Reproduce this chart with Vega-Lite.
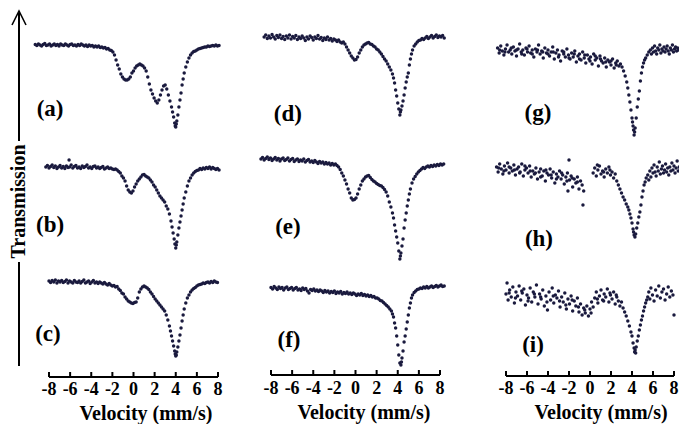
{
"$schema": "https://vega.github.io/schema/vega-lite/v6.json",
"background": "white",
"padding": {"left": 8, "top": 7, "right": 0, "bottom": 0},
"config": {
 "view": {"stroke": null},
 "circle": {"size": 12, "color": "#1a1a3e", "opacity": 1},
 "text": {"font": "Liberation Serif", "fontWeight": "bold", "color": "black"},
 "rule": {"strokeWidth": 2, "color": "black"}
},
"datasets": {
 "ticks": [{"tv":-8,"lab":"-8"},{"tv":-6,"lab":"-6"},{"tv":-4,"lab":"-4"},{"tv":-2,"lab":"-2"},{"tv":0,"lab":"0"},{"tv":2,"lab":"2"},{"tv":4,"lab":"4"},{"tv":6,"lab":"6"},{"tv":8,"lab":"8"}],
 "a": [{"v":-9.3,"t":93.5},{"v":-9.15,"t":92.5},{"v":-9.0,"t":94},{"v":-8.85,"t":93},{"v":-8.7,"t":92},{"v":-8.55,"t":93.5},{"v":-8.4,"t":94.5},{"v":-8.25,"t":92.5},{"v":-8.1,"t":93},{"v":-7.95,"t":94},{"v":-7.8,"t":92},{"v":-7.65,"t":93},{"v":-7.5,"t":94},{"v":-7.35,"t":92.5},{"v":-7.2,"t":93.5},{"v":-7.05,"t":92},{"v":-6.9,"t":94},{"v":-6.75,"t":93},{"v":-6.6,"t":92.5},{"v":-6.45,"t":94},{"v":-6.3,"t":93},{"v":-6.15,"t":92},{"v":-6.0,"t":93.5},{"v":-5.85,"t":94},{"v":-5.7,"t":92.5},{"v":-5.55,"t":93},{"v":-5.4,"t":92},{"v":-5.25,"t":93.5},{"v":-5.1,"t":92.5},{"v":-4.95,"t":94},{"v":-4.8,"t":93},{"v":-4.65,"t":92},{"v":-4.5,"t":93},{"v":-4.35,"t":91.5},{"v":-4.2,"t":93},{"v":-4.05,"t":92},{"v":-3.9,"t":92.5},{"v":-3.75,"t":91},{"v":-3.6,"t":92},{"v":-3.45,"t":91},{"v":-3.3,"t":92},{"v":-3.15,"t":90.5},{"v":-3.0,"t":91},{"v":-2.85,"t":90},{"v":-2.7,"t":90.5},{"v":-2.55,"t":89},{"v":-2.4,"t":89.5},{"v":-2.25,"t":88},{"v":-2.1,"t":87.5},{"v":-1.95,"t":86},{"v":-1.8,"t":83},{"v":-1.65,"t":78},{"v":-1.5,"t":73},{"v":-1.35,"t":69},{"v":-1.2,"t":64},{"v":-1.05,"t":61},{"v":-0.9,"t":59},{"v":-0.75,"t":58},{"v":-0.6,"t":58},{"v":-0.45,"t":59},{"v":-0.3,"t":61},{"v":-0.15,"t":65},{"v":0,"t":67},{"v":0.15,"t":70},{"v":0.3,"t":72},{"v":0.45,"t":73},{"v":0.6,"t":74},{"v":0.75,"t":73},{"v":0.9,"t":72},{"v":1.05,"t":70},{"v":1.2,"t":67},{"v":1.35,"t":61},{"v":1.5,"t":54},{"v":1.65,"t":48},{"v":1.8,"t":44},{"v":1.95,"t":40},{"v":2.1,"t":37},{"v":2.25,"t":35},{"v":2.4,"t":38},{"v":2.55,"t":43},{"v":2.7,"t":48},{"v":2.85,"t":52},{"v":3.0,"t":53},{"v":3.15,"t":49},{"v":3.3,"t":43},{"v":3.45,"t":37},{"v":3.6,"t":31},{"v":3.7,"t":26},{"v":3.8,"t":21},{"v":3.9,"t":15},{"v":3.95,"t":12},{"v":4.0,"t":11},{"v":4.05,"t":14},{"v":4.1,"t":17},{"v":4.2,"t":23},{"v":4.3,"t":31},{"v":4.4,"t":38},{"v":4.5,"t":45},{"v":4.6,"t":53},{"v":4.7,"t":59},{"v":4.8,"t":65},{"v":4.95,"t":71},{"v":5.1,"t":76},{"v":5.25,"t":80},{"v":5.4,"t":83},{"v":5.55,"t":85},{"v":5.7,"t":86.5},{"v":5.85,"t":87},{"v":6.0,"t":88},{"v":6.15,"t":89},{"v":6.3,"t":89.5},{"v":6.45,"t":90},{"v":6.6,"t":90.5},{"v":6.75,"t":91},{"v":6.9,"t":91},{"v":7.05,"t":92},{"v":7.2,"t":91.5},{"v":7.35,"t":92},{"v":7.5,"t":92.5},{"v":7.65,"t":92},{"v":7.8,"t":93},{"v":7.95,"t":92},{"v":8.1,"t":92.5}],
 "b": [{"v":-8.3,"t":90},{"v":-8.15,"t":91.5},{"v":-8.0,"t":89},{"v":-7.85,"t":90.5},{"v":-7.7,"t":92},{"v":-7.55,"t":89.5},{"v":-7.4,"t":91},{"v":-7.25,"t":88.5},{"v":-7.1,"t":90},{"v":-6.95,"t":91.5},{"v":-6.8,"t":89},{"v":-6.65,"t":90.5},{"v":-6.5,"t":88.5},{"v":-6.35,"t":91},{"v":-6.2,"t":89.5},{"v":-6.1,"t":97},{"v":-6.05,"t":90},{"v":-5.9,"t":92},{"v":-5.75,"t":89},{"v":-5.6,"t":90.5},{"v":-5.45,"t":91.5},{"v":-5.3,"t":89},{"v":-5.15,"t":90},{"v":-5.0,"t":88.5},{"v":-4.85,"t":91},{"v":-4.7,"t":89.5},{"v":-4.55,"t":90.5},{"v":-4.4,"t":92},{"v":-4.25,"t":89},{"v":-4.1,"t":90},{"v":-3.95,"t":88.5},{"v":-3.8,"t":90.5},{"v":-3.65,"t":91},{"v":-3.5,"t":89},{"v":-3.35,"t":90},{"v":-3.2,"t":88.5},{"v":-3.05,"t":89.5},{"v":-2.9,"t":90.5},{"v":-2.75,"t":88},{"v":-2.6,"t":89},{"v":-2.45,"t":90},{"v":-2.3,"t":88.5},{"v":-2.15,"t":89},{"v":-2.0,"t":88},{"v":-1.85,"t":87.5},{"v":-1.7,"t":88},{"v":-1.55,"t":87},{"v":-1.4,"t":85.5},{"v":-1.25,"t":84},{"v":-1.1,"t":81},{"v":-0.95,"t":79},{"v":-0.8,"t":76},{"v":-0.65,"t":71},{"v":-0.5,"t":67},{"v":-0.35,"t":65},{"v":-0.2,"t":64},{"v":-0.05,"t":66},{"v":0.1,"t":70},{"v":0.25,"t":73},{"v":0.4,"t":76},{"v":0.55,"t":78},{"v":0.7,"t":80},{"v":0.85,"t":82},{"v":1.0,"t":82.5},{"v":1.15,"t":81},{"v":1.3,"t":80},{"v":1.45,"t":79},{"v":1.6,"t":77},{"v":1.75,"t":75},{"v":1.9,"t":72},{"v":2.05,"t":70},{"v":2.2,"t":67},{"v":2.35,"t":64},{"v":2.5,"t":61},{"v":2.65,"t":59},{"v":2.8,"t":57},{"v":2.95,"t":55},{"v":3.1,"t":51},{"v":3.25,"t":48},{"v":3.4,"t":43},{"v":3.55,"t":36},{"v":3.65,"t":30},{"v":3.75,"t":24},{"v":3.85,"t":18},{"v":3.92,"t":13},{"v":4.0,"t":9},{"v":4.05,"t":12},{"v":4.1,"t":15},{"v":4.2,"t":22},{"v":4.3,"t":29},{"v":4.4,"t":35},{"v":4.5,"t":41},{"v":4.6,"t":47},{"v":4.7,"t":53},{"v":4.8,"t":59},{"v":4.95,"t":65},{"v":5.1,"t":71},{"v":5.25,"t":76},{"v":5.4,"t":79},{"v":5.55,"t":82},{"v":5.7,"t":84},{"v":5.85,"t":85.5},{"v":6.0,"t":86.5},{"v":6.15,"t":87},{"v":6.3,"t":88.5},{"v":6.45,"t":87.5},{"v":6.6,"t":89},{"v":6.75,"t":88},{"v":6.9,"t":89.5},{"v":7.05,"t":88.5},{"v":7.2,"t":90},{"v":7.35,"t":88},{"v":7.5,"t":89.5},{"v":7.65,"t":88.5},{"v":7.8,"t":87.5},{"v":7.95,"t":88.5},{"v":8.1,"t":87}],
 "c": [{"v":-8.0,"t":95},{"v":-7.85,"t":93.5},{"v":-7.7,"t":95.5},{"v":-7.55,"t":94},{"v":-7.4,"t":96},{"v":-7.25,"t":93},{"v":-7.1,"t":95},{"v":-6.95,"t":94},{"v":-6.8,"t":95.5},{"v":-6.65,"t":93.5},{"v":-6.5,"t":94.5},{"v":-6.35,"t":96},{"v":-6.2,"t":93},{"v":-6.05,"t":95},{"v":-5.9,"t":94},{"v":-5.75,"t":93},{"v":-5.6,"t":95.5},{"v":-5.45,"t":94},{"v":-5.3,"t":93.5},{"v":-5.15,"t":95},{"v":-5.0,"t":93},{"v":-4.85,"t":94.5},{"v":-4.7,"t":96},{"v":-4.55,"t":93},{"v":-4.4,"t":94},{"v":-4.25,"t":95},{"v":-4.1,"t":92.5},{"v":-3.95,"t":94},{"v":-3.8,"t":95.5},{"v":-3.65,"t":93},{"v":-3.5,"t":94},{"v":-3.35,"t":92.5},{"v":-3.2,"t":94},{"v":-3.05,"t":93},{"v":-2.9,"t":92},{"v":-2.75,"t":93.5},{"v":-2.6,"t":92},{"v":-2.45,"t":91},{"v":-2.3,"t":92.5},{"v":-2.15,"t":91},{"v":-2.0,"t":90},{"v":-1.85,"t":90.5},{"v":-1.7,"t":89},{"v":-1.55,"t":89.5},{"v":-1.4,"t":87},{"v":-1.25,"t":85.5},{"v":-1.1,"t":83},{"v":-0.95,"t":82},{"v":-0.8,"t":79},{"v":-0.65,"t":77},{"v":-0.5,"t":75},{"v":-0.35,"t":74},{"v":-0.2,"t":73},{"v":-0.05,"t":72.5},{"v":0.1,"t":73.5},{"v":0.25,"t":74},{"v":0.4,"t":78},{"v":0.55,"t":84},{"v":0.7,"t":87},{"v":0.85,"t":89},{"v":1.0,"t":90},{"v":1.15,"t":89},{"v":1.3,"t":88},{"v":1.45,"t":86.5},{"v":1.6,"t":84},{"v":1.75,"t":82},{"v":1.9,"t":79.5},{"v":2.05,"t":77},{"v":2.2,"t":75},{"v":2.35,"t":73},{"v":2.5,"t":71},{"v":2.65,"t":69},{"v":2.8,"t":67},{"v":2.95,"t":65},{"v":3.1,"t":61},{"v":3.25,"t":56},{"v":3.4,"t":50},{"v":3.5,"t":45},{"v":3.6,"t":40},{"v":3.7,"t":35},{"v":3.8,"t":30},{"v":3.9,"t":25},{"v":3.95,"t":22},{"v":4.0,"t":20},{"v":4.05,"t":21},{"v":4.1,"t":24},{"v":4.2,"t":29},{"v":4.3,"t":35},{"v":4.4,"t":41},{"v":4.5,"t":48},{"v":4.6,"t":55},{"v":4.7,"t":61},{"v":4.8,"t":67},{"v":4.95,"t":73},{"v":5.1,"t":78},{"v":5.25,"t":81},{"v":5.4,"t":84},{"v":5.55,"t":86},{"v":5.7,"t":87.5},{"v":5.85,"t":88.5},{"v":6.0,"t":90},{"v":6.15,"t":91},{"v":6.3,"t":91.5},{"v":6.45,"t":92},{"v":6.6,"t":93},{"v":6.75,"t":92.5},{"v":6.9,"t":93.5},{"v":7.05,"t":94},{"v":7.2,"t":93},{"v":7.35,"t":94.5},{"v":7.5,"t":93.5},{"v":7.65,"t":95},{"v":7.8,"t":94},{"v":7.95,"t":93.5}],
 "d": [{"v":-8.65,"t":101},{"v":-8.5,"t":103},{"v":-8.35,"t":99.5},{"v":-8.2,"t":102},{"v":-8.05,"t":100},{"v":-7.9,"t":103.5},{"v":-7.75,"t":101},{"v":-7.6,"t":99},{"v":-7.45,"t":102.5},{"v":-7.3,"t":100.5},{"v":-7.15,"t":103},{"v":-7.0,"t":99.5},{"v":-6.85,"t":101.5},{"v":-6.7,"t":98.5},{"v":-6.55,"t":102},{"v":-6.4,"t":100},{"v":-6.25,"t":103},{"v":-6.1,"t":99},{"v":-5.95,"t":101.5},{"v":-5.8,"t":100},{"v":-5.65,"t":102.5},{"v":-5.5,"t":98.5},{"v":-5.35,"t":101},{"v":-5.2,"t":99.5},{"v":-5.05,"t":102},{"v":-4.9,"t":100},{"v":-4.75,"t":97.5},{"v":-4.6,"t":101},{"v":-4.45,"t":99},{"v":-4.3,"t":102},{"v":-4.15,"t":100.5},{"v":-4.0,"t":98},{"v":-3.85,"t":101},{"v":-3.7,"t":99.5},{"v":-3.55,"t":102.5},{"v":-3.4,"t":99},{"v":-3.25,"t":100.5},{"v":-3.1,"t":97.5},{"v":-2.95,"t":100},{"v":-2.8,"t":98.5},{"v":-2.65,"t":101},{"v":-2.5,"t":98},{"v":-2.35,"t":99.5},{"v":-2.2,"t":97},{"v":-2.05,"t":99},{"v":-1.9,"t":98},{"v":-1.75,"t":96.5},{"v":-1.6,"t":98},{"v":-1.45,"t":96},{"v":-1.3,"t":95},{"v":-1.15,"t":96},{"v":-1.0,"t":94},{"v":-0.85,"t":91},{"v":-0.7,"t":88},{"v":-0.55,"t":85},{"v":-0.4,"t":82},{"v":-0.25,"t":80},{"v":-0.1,"t":78},{"v":0.05,"t":78.5},{"v":0.2,"t":81},{"v":0.35,"t":85},{"v":0.5,"t":88},{"v":0.65,"t":91},{"v":0.8,"t":93},{"v":0.95,"t":94},{"v":1.1,"t":95},{"v":1.25,"t":95.5},{"v":1.4,"t":94},{"v":1.55,"t":93.5},{"v":1.7,"t":92},{"v":1.85,"t":91},{"v":2.0,"t":89},{"v":2.15,"t":88},{"v":2.3,"t":86},{"v":2.45,"t":84},{"v":2.6,"t":81.5},{"v":2.75,"t":79},{"v":2.9,"t":77},{"v":3.05,"t":74},{"v":3.2,"t":71},{"v":3.35,"t":68},{"v":3.5,"t":64},{"v":3.6,"t":60},{"v":3.7,"t":55},{"v":3.8,"t":48},{"v":3.9,"t":42},{"v":4.0,"t":35},{"v":4.1,"t":29},{"v":4.2,"t":23},{"v":4.25,"t":26},{"v":4.3,"t":28},{"v":4.4,"t":32},{"v":4.5,"t":37},{"v":4.6,"t":43},{"v":4.7,"t":50},{"v":4.8,"t":56},{"v":4.9,"t":61},{"v":5.0,"t":65},{"v":5.1,"t":73},{"v":5.2,"t":79},{"v":5.3,"t":84},{"v":5.4,"t":88},{"v":5.55,"t":92},{"v":5.7,"t":94},{"v":5.85,"t":96},{"v":6.0,"t":97.5},{"v":6.15,"t":98},{"v":6.3,"t":99.5},{"v":6.45,"t":98.5},{"v":6.6,"t":100},{"v":6.75,"t":101.5},{"v":6.9,"t":99.5},{"v":7.05,"t":101},{"v":7.2,"t":102.5},{"v":7.35,"t":100},{"v":7.5,"t":101.5},{"v":7.65,"t":103},{"v":7.8,"t":100.5},{"v":7.95,"t":102},{"v":8.1,"t":101},{"v":8.25,"t":102.5},{"v":8.4,"t":100}],
 "e": [{"v":-8.95,"t":98},{"v":-8.8,"t":99.5},{"v":-8.65,"t":97},{"v":-8.5,"t":98.5},{"v":-8.35,"t":100},{"v":-8.2,"t":97.5},{"v":-8.05,"t":99},{"v":-7.9,"t":96.5},{"v":-7.75,"t":98},{"v":-7.6,"t":99.5},{"v":-7.45,"t":97},{"v":-7.3,"t":98.5},{"v":-7.15,"t":96},{"v":-7.0,"t":98},{"v":-6.85,"t":99},{"v":-6.7,"t":96.5},{"v":-6.55,"t":97.5},{"v":-6.4,"t":99},{"v":-6.25,"t":96},{"v":-6.1,"t":97.5},{"v":-5.95,"t":98.5},{"v":-5.8,"t":95.5},{"v":-5.65,"t":97},{"v":-5.5,"t":98},{"v":-5.35,"t":95.5},{"v":-5.2,"t":97},{"v":-5.05,"t":96},{"v":-4.9,"t":98},{"v":-4.75,"t":95},{"v":-4.6,"t":96.5},{"v":-4.45,"t":97.5},{"v":-4.3,"t":95},{"v":-4.15,"t":96},{"v":-4.0,"t":94.5},{"v":-3.85,"t":96.5},{"v":-3.7,"t":95},{"v":-3.55,"t":93.5},{"v":-3.4,"t":95.5},{"v":-3.25,"t":94},{"v":-3.1,"t":95},{"v":-2.95,"t":93},{"v":-2.8,"t":94.5},{"v":-2.65,"t":93},{"v":-2.5,"t":94},{"v":-2.35,"t":92},{"v":-2.2,"t":93.5},{"v":-2.05,"t":92},{"v":-1.9,"t":93},{"v":-1.75,"t":91.5},{"v":-1.6,"t":90},{"v":-1.45,"t":87.5},{"v":-1.3,"t":84},{"v":-1.15,"t":81},{"v":-1.0,"t":77},{"v":-0.85,"t":73},{"v":-0.7,"t":68},{"v":-0.55,"t":64},{"v":-0.4,"t":59},{"v":-0.25,"t":57},{"v":-0.1,"t":57.5},{"v":0.05,"t":59},{"v":0.2,"t":63},{"v":0.35,"t":68},{"v":0.5,"t":72},{"v":0.65,"t":76},{"v":0.8,"t":78},{"v":0.95,"t":80},{"v":1.1,"t":81},{"v":1.25,"t":81.5},{"v":1.4,"t":79.5},{"v":1.55,"t":77.5},{"v":1.7,"t":76},{"v":1.85,"t":75},{"v":2.0,"t":73.5},{"v":2.15,"t":72.5},{"v":2.3,"t":71.5},{"v":2.45,"t":71},{"v":2.6,"t":69.5},{"v":2.75,"t":67.5},{"v":2.9,"t":65},{"v":3.05,"t":61},{"v":3.2,"t":55},{"v":3.35,"t":50},{"v":3.5,"t":44},{"v":3.6,"t":39},{"v":3.7,"t":32},{"v":3.8,"t":26},{"v":3.9,"t":20},{"v":4.0,"t":14},{"v":4.1,"t":6},{"v":4.2,"t":-2},{"v":4.25,"t":1},{"v":4.3,"t":4},{"v":4.4,"t":11},{"v":4.5,"t":18},{"v":4.6,"t":29},{"v":4.7,"t":37},{"v":4.8,"t":44},{"v":4.9,"t":51},{"v":5.0,"t":57},{"v":5.1,"t":63},{"v":5.2,"t":68},{"v":5.35,"t":74},{"v":5.5,"t":78},{"v":5.65,"t":80.5},{"v":5.8,"t":83},{"v":5.95,"t":85},{"v":6.1,"t":86.5},{"v":6.25,"t":88},{"v":6.4,"t":89.5},{"v":6.55,"t":88.5},{"v":6.7,"t":90},{"v":6.85,"t":91},{"v":7.0,"t":90},{"v":7.15,"t":91.5},{"v":7.3,"t":90.5},{"v":7.45,"t":92},{"v":7.6,"t":91},{"v":7.75,"t":92.5},{"v":7.9,"t":91.5},{"v":8.05,"t":93},{"v":8.2,"t":92},{"v":8.35,"t":93}],
 "f": [{"v":-8.0,"t":88.5},{"v":-7.85,"t":87},{"v":-7.7,"t":89.5},{"v":-7.55,"t":88},{"v":-7.4,"t":86.5},{"v":-7.25,"t":89},{"v":-7.1,"t":87.5},{"v":-6.95,"t":88.5},{"v":-6.8,"t":86},{"v":-6.65,"t":88},{"v":-6.5,"t":89},{"v":-6.35,"t":86.5},{"v":-6.2,"t":87.5},{"v":-6.05,"t":88.5},{"v":-5.9,"t":86},{"v":-5.75,"t":87.5},{"v":-5.6,"t":88.5},{"v":-5.45,"t":86},{"v":-5.3,"t":87},{"v":-5.15,"t":85.5},{"v":-5.0,"t":88},{"v":-4.85,"t":86.5},{"v":-4.7,"t":87.5},{"v":-4.55,"t":85},{"v":-4.4,"t":83},{"v":-4.25,"t":86.5},{"v":-4.1,"t":85.5},{"v":-3.95,"t":87},{"v":-3.8,"t":85},{"v":-3.65,"t":86},{"v":-3.5,"t":84.5},{"v":-3.35,"t":86},{"v":-3.2,"t":85},{"v":-3.05,"t":83.5},{"v":-2.9,"t":85.5},{"v":-2.75,"t":84},{"v":-2.6,"t":85},{"v":-2.45,"t":83},{"v":-2.3,"t":84.5},{"v":-2.15,"t":83.5},{"v":-2.0,"t":85},{"v":-1.85,"t":82.5},{"v":-1.7,"t":84},{"v":-1.55,"t":83},{"v":-1.4,"t":84.5},{"v":-1.25,"t":82},{"v":-1.1,"t":83.5},{"v":-0.95,"t":82.5},{"v":-0.8,"t":84},{"v":-0.65,"t":82},{"v":-0.5,"t":83},{"v":-0.35,"t":81.5},{"v":-0.2,"t":83},{"v":-0.05,"t":82},{"v":0.1,"t":80.5},{"v":0.25,"t":82},{"v":0.4,"t":81},{"v":0.55,"t":82.5},{"v":0.7,"t":80.5},{"v":0.85,"t":81.5},{"v":1.0,"t":80},{"v":1.15,"t":81},{"v":1.3,"t":79.5},{"v":1.45,"t":80.5},{"v":1.6,"t":79},{"v":1.75,"t":79.5},{"v":1.9,"t":78},{"v":2.05,"t":78},{"v":2.2,"t":77},{"v":2.35,"t":75.5},{"v":2.5,"t":75},{"v":2.65,"t":73.5},{"v":2.8,"t":72},{"v":2.95,"t":70.5},{"v":3.1,"t":69},{"v":3.25,"t":67},{"v":3.4,"t":65},{"v":3.5,"t":62},{"v":3.6,"t":59},{"v":3.7,"t":53},{"v":3.8,"t":48},{"v":3.9,"t":40},{"v":4.0,"t":31},{"v":4.1,"t":21},{"v":4.2,"t":13},{"v":4.3,"t":11},{"v":4.35,"t":14},{"v":4.4,"t":18},{"v":4.5,"t":25},{"v":4.6,"t":34},{"v":4.7,"t":40},{"v":4.8,"t":47},{"v":4.9,"t":54},{"v":5.0,"t":61},{"v":5.1,"t":68},{"v":5.2,"t":73},{"v":5.3,"t":78},{"v":5.4,"t":81},{"v":5.55,"t":83.5},{"v":5.7,"t":85},{"v":5.85,"t":86.5},{"v":6.0,"t":87},{"v":6.15,"t":88},{"v":6.3,"t":87.5},{"v":6.45,"t":89},{"v":6.6,"t":88},{"v":6.75,"t":89.5},{"v":6.9,"t":88},{"v":7.05,"t":89},{"v":7.2,"t":90},{"v":7.35,"t":88.5},{"v":7.5,"t":89.5},{"v":7.65,"t":90.5},{"v":7.8,"t":89},{"v":7.95,"t":90},{"v":8.1,"t":91},{"v":8.25,"t":89.5},{"v":8.4,"t":90}],
 "g": [{"v":-8.8,"t":90},{"v":-8.65,"t":85},{"v":-8.5,"t":92},{"v":-8.35,"t":87},{"v":-8.2,"t":83},{"v":-8.05,"t":89},{"v":-7.9,"t":93},{"v":-7.75,"t":86},{"v":-7.6,"t":88},{"v":-7.45,"t":84},{"v":-7.3,"t":91},{"v":-7.15,"t":87},{"v":-7.0,"t":82},{"v":-6.85,"t":89},{"v":-6.7,"t":94},{"v":-6.55,"t":86},{"v":-6.4,"t":88},{"v":-6.25,"t":83},{"v":-6.1,"t":90},{"v":-5.95,"t":86},{"v":-5.8,"t":92},{"v":-5.65,"t":85},{"v":-5.5,"t":88},{"v":-5.35,"t":81},{"v":-5.2,"t":89},{"v":-5.05,"t":86},{"v":-4.9,"t":93},{"v":-4.75,"t":84},{"v":-4.6,"t":87},{"v":-4.45,"t":80},{"v":-4.3,"t":90},{"v":-4.15,"t":85},{"v":-4.0,"t":88},{"v":-3.85,"t":82},{"v":-3.7,"t":86},{"v":-3.55,"t":91},{"v":-3.4,"t":79},{"v":-3.25,"t":85},{"v":-3.1,"t":88},{"v":-2.95,"t":83},{"v":-2.8,"t":77},{"v":-2.65,"t":87},{"v":-2.5,"t":84},{"v":-2.35,"t":81},{"v":-2.2,"t":89},{"v":-2.05,"t":83},{"v":-1.9,"t":79},{"v":-1.75,"t":85},{"v":-1.6,"t":81},{"v":-1.45,"t":87},{"v":-1.3,"t":76},{"v":-1.15,"t":82},{"v":-1.0,"t":84},{"v":-0.85,"t":78},{"v":-0.7,"t":86},{"v":-0.55,"t":80},{"v":-0.4,"t":75},{"v":-0.25,"t":83},{"v":-0.1,"t":79},{"v":0.05,"t":81},{"v":0.2,"t":74},{"v":0.35,"t":84},{"v":0.5,"t":78},{"v":0.65,"t":80},{"v":0.8,"t":72},{"v":0.95,"t":82},{"v":1.1,"t":77},{"v":1.25,"t":75},{"v":1.4,"t":80},{"v":1.55,"t":71},{"v":1.7,"t":78},{"v":1.85,"t":76},{"v":2.0,"t":73},{"v":2.15,"t":79},{"v":2.3,"t":70},{"v":2.45,"t":75},{"v":2.6,"t":77},{"v":2.75,"t":72},{"v":2.9,"t":74},{"v":-8.6,"t":88},{"v":-8.1,"t":86},{"v":-7.5,"t":90},{"v":-7.0,"t":88},{"v":-6.5,"t":84},{"v":-6.0,"t":89},{"v":-5.5,"t":84},{"v":-5.0,"t":88},{"v":-4.5,"t":86},{"v":-4.0,"t":84},{"v":-3.5,"t":86},{"v":-3.0,"t":81},{"v":-2.5,"t":86},{"v":-2.0,"t":80},{"v":-1.5,"t":84},{"v":-1.0,"t":79},{"v":-0.5,"t":83},{"v":0.0,"t":77},{"v":0.5,"t":82},{"v":1.0,"t":79},{"v":1.5,"t":76},{"v":2.0,"t":77},{"v":2.5,"t":73},{"v":3.05,"t":71},{"v":3.2,"t":67},{"v":3.35,"t":62},{"v":3.5,"t":56},{"v":3.6,"t":50},{"v":3.7,"t":43},{"v":3.8,"t":36},{"v":3.9,"t":28},{"v":4.0,"t":20},{"v":4.05,"t":16},{"v":4.1,"t":12},{"v":4.15,"t":8},{"v":4.2,"t":3},{"v":4.25,"t":6},{"v":4.3,"t":10},{"v":4.4,"t":20},{"v":4.5,"t":31},{"v":4.6,"t":39},{"v":4.7,"t":47},{"v":4.8,"t":57},{"v":4.9,"t":65},{"v":5.0,"t":71},{"v":5.1,"t":75},{"v":5.2,"t":78},{"v":5.3,"t":80},{"v":5.45,"t":83},{"v":5.6,"t":86},{"v":5.75,"t":88},{"v":5.85,"t":84},{"v":5.95,"t":90},{"v":6.05,"t":86},{"v":6.15,"t":92},{"v":6.25,"t":87},{"v":6.35,"t":84},{"v":6.45,"t":90},{"v":6.55,"t":88},{"v":6.65,"t":93},{"v":6.75,"t":85},{"v":6.85,"t":89},{"v":6.95,"t":87},{"v":7.05,"t":91},{"v":7.15,"t":86},{"v":7.25,"t":89},{"v":7.35,"t":92},{"v":7.45,"t":87},{"v":7.55,"t":84},{"v":7.65,"t":90},{"v":7.75,"t":88},{"v":7.85,"t":93},{"v":7.95,"t":86},{"v":8.05,"t":89},{"v":8.15,"t":91},{"v":8.25,"t":87},{"v":8.35,"t":90},{"v":8.45,"t":88}],
 "h": [{"v":-8.9,"t":90},{"v":-8.75,"t":85},{"v":-8.6,"t":93},{"v":-8.45,"t":88},{"v":-8.3,"t":83},{"v":-8.15,"t":91},{"v":-8.0,"t":87},{"v":-7.85,"t":94},{"v":-7.7,"t":84},{"v":-7.55,"t":89},{"v":-7.4,"t":86},{"v":-7.25,"t":92},{"v":-7.1,"t":82},{"v":-6.95,"t":88},{"v":-6.8,"t":90},{"v":-6.65,"t":85},{"v":-6.5,"t":93},{"v":-6.35,"t":81},{"v":-6.2,"t":87},{"v":-6.05,"t":89},{"v":-5.9,"t":84},{"v":-5.75,"t":91},{"v":-5.6,"t":80},{"v":-5.45,"t":86},{"v":-5.3,"t":83},{"v":-5.15,"t":89},{"v":-5.0,"t":78},{"v":-4.85,"t":85},{"v":-4.7,"t":88},{"v":-4.55,"t":81},{"v":-4.4,"t":86},{"v":-4.25,"t":76},{"v":-4.1,"t":84},{"v":-3.95,"t":82},{"v":-3.8,"t":88},{"v":-3.65,"t":79},{"v":-3.5,"t":85},{"v":-3.35,"t":74},{"v":-3.2,"t":83},{"v":-3.05,"t":80},{"v":-2.9,"t":86},{"v":-2.75,"t":78},{"v":-2.6,"t":82},{"v":-2.45,"t":73},{"v":-2.3,"t":80},{"v":-2.15,"t":84},{"v":-2.1,"t":66},{"v":-2.0,"t":97},{"v":-1.95,"t":77},{"v":-1.8,"t":81},{"v":-1.65,"t":70},{"v":-1.5,"t":78},{"v":-1.35,"t":74},{"v":-1.2,"t":80},{"v":-1.05,"t":68},{"v":-0.9,"t":76},{"v":-0.75,"t":72},{"v":-0.67,"t":52},{"v":-0.6,"t":66},{"v":-8.7,"t":89},{"v":-8.2,"t":86},{"v":-7.7,"t":90},{"v":-7.2,"t":87},{"v":-6.7,"t":84},{"v":-6.2,"t":91},{"v":-5.7,"t":86},{"v":-5.2,"t":84},{"v":-4.7,"t":80},{"v":-4.2,"t":87},{"v":-3.7,"t":82},{"v":-3.2,"t":78},{"v":-2.7,"t":84},{"v":-2.2,"t":76},{"v":-1.7,"t":79},{"v":-1.2,"t":75},{"v":0.3,"t":84},{"v":0.45,"t":89},{"v":0.6,"t":81},{"v":0.75,"t":87},{"v":0.9,"t":91},{"v":1.05,"t":83},{"v":1.2,"t":86},{"v":1.35,"t":80},{"v":1.5,"t":88},{"v":1.65,"t":84},{"v":1.8,"t":90},{"v":1.95,"t":82},{"v":2.1,"t":85},{"v":2.25,"t":79},{"v":2.4,"t":83},{"v":0.7,"t":92},{"v":1.3,"t":85},{"v":1.9,"t":87},{"v":2.55,"t":76},{"v":2.7,"t":72},{"v":2.85,"t":68},{"v":3.0,"t":64},{"v":3.15,"t":60},{"v":3.3,"t":57},{"v":3.45,"t":53},{"v":3.6,"t":50},{"v":3.7,"t":47},{"v":3.8,"t":43},{"v":3.9,"t":39},{"v":4.0,"t":34},{"v":4.1,"t":28},{"v":4.15,"t":25},{"v":4.2,"t":22},{"v":4.28,"t":20},{"v":4.35,"t":23},{"v":4.45,"t":29},{"v":4.55,"t":34},{"v":4.65,"t":40},{"v":4.75,"t":45},{"v":4.85,"t":52},{"v":4.95,"t":60},{"v":5.05,"t":66},{"v":5.15,"t":72},{"v":5.25,"t":75},{"v":5.35,"t":79},{"v":5.5,"t":82},{"v":5.6,"t":77},{"v":5.7,"t":86},{"v":5.8,"t":80},{"v":5.9,"t":89},{"v":6.0,"t":84},{"v":6.1,"t":92},{"v":6.2,"t":85},{"v":6.3,"t":81},{"v":6.4,"t":90},{"v":6.5,"t":86},{"v":6.6,"t":95},{"v":6.7,"t":83},{"v":6.8,"t":88},{"v":6.9,"t":91},{"v":7.0,"t":84},{"v":7.1,"t":87},{"v":7.2,"t":93},{"v":7.3,"t":85},{"v":7.4,"t":89},{"v":7.5,"t":82},{"v":7.6,"t":90},{"v":7.7,"t":86},{"v":7.8,"t":94},{"v":7.9,"t":87},{"v":8.0,"t":91},{"v":8.1,"t":84},{"v":8.2,"t":89},{"v":8.3,"t":96},{"v":8.4,"t":86},{"v":8.5,"t":90},{"v":8.6,"t":88}],
 "i": [{"v":-8.0,"t":82},{"v":-7.9,"t":93},{"v":-7.8,"t":76},{"v":-7.65,"t":86},{"v":-7.5,"t":79},{"v":-7.35,"t":89},{"v":-7.2,"t":73},{"v":-7.05,"t":84},{"v":-6.9,"t":80},{"v":-6.75,"t":90},{"v":-6.6,"t":76},{"v":-6.45,"t":83},{"v":-6.3,"t":87},{"v":-6.15,"t":71},{"v":-6.0,"t":81},{"v":-5.85,"t":78},{"v":-5.7,"t":88},{"v":-5.55,"t":74},{"v":-5.4,"t":84},{"v":-5.25,"t":79},{"v":-5.1,"t":91},{"v":-4.95,"t":72},{"v":-4.8,"t":82},{"v":-4.65,"t":77},{"v":-4.5,"t":86},{"v":-4.35,"t":70},{"v":-4.2,"t":80},{"v":-4.05,"t":66},{"v":-3.9,"t":84},{"v":-3.75,"t":76},{"v":-3.6,"t":88},{"v":-3.45,"t":73},{"v":-3.3,"t":81},{"v":-3.15,"t":78},{"v":-3.0,"t":85},{"v":-2.85,"t":69},{"v":-2.7,"t":79},{"v":-2.55,"t":74},{"v":-2.4,"t":83},{"v":-2.25,"t":67},{"v":-2.1,"t":77},{"v":-1.95,"t":72},{"v":-1.8,"t":80},{"v":-1.65,"t":65},{"v":-1.5,"t":75},{"v":-1.35,"t":70},{"v":-1.2,"t":78},{"v":-1.05,"t":64},{"v":-0.9,"t":72},{"v":-0.75,"t":61},{"v":-0.6,"t":68},{"v":-0.45,"t":63},{"v":-0.3,"t":70},{"v":-0.15,"t":60},{"v":0.0,"t":67},{"v":0.15,"t":74},{"v":0.3,"t":69},{"v":0.45,"t":78},{"v":0.6,"t":84},{"v":0.75,"t":73},{"v":0.9,"t":80},{"v":1.05,"t":86},{"v":1.2,"t":76},{"v":1.35,"t":82},{"v":1.5,"t":79},{"v":1.65,"t":87},{"v":1.8,"t":74},{"v":1.95,"t":81},{"v":2.1,"t":77},{"v":2.25,"t":84},{"v":2.4,"t":72},{"v":2.55,"t":79},{"v":2.7,"t":75},{"v":2.85,"t":70},{"v":3.0,"t":74},{"v":-7.7,"t":83},{"v":-7.1,"t":78},{"v":-6.5,"t":85},{"v":-5.9,"t":75},{"v":-5.3,"t":82},{"v":-4.7,"t":79},{"v":-4.1,"t":74},{"v":-3.5,"t":80},{"v":-2.9,"t":75},{"v":-2.3,"t":71},{"v":-1.7,"t":76},{"v":-1.1,"t":69},{"v":-0.5,"t":66},{"v":0.1,"t":63},{"v":0.7,"t":77},{"v":1.3,"t":75},{"v":1.9,"t":83},{"v":2.5,"t":81},{"v":3.15,"t":68},{"v":3.3,"t":64},{"v":3.45,"t":60},{"v":3.6,"t":55},{"v":3.75,"t":50},{"v":3.9,"t":44},{"v":4.0,"t":40},{"v":4.1,"t":33},{"v":4.2,"t":28},{"v":4.25,"t":24},{"v":4.3,"t":26},{"v":4.35,"t":23},{"v":4.4,"t":29},{"v":4.5,"t":35},{"v":4.6,"t":40},{"v":4.7,"t":46},{"v":4.8,"t":51},{"v":4.9,"t":56},{"v":5.0,"t":60},{"v":5.1,"t":65},{"v":5.2,"t":69},{"v":5.3,"t":73},{"v":5.4,"t":76},{"v":5.5,"t":79},{"v":5.6,"t":84},{"v":5.7,"t":77},{"v":5.8,"t":88},{"v":5.95,"t":81},{"v":6.1,"t":75},{"v":6.25,"t":86},{"v":6.4,"t":80},{"v":6.55,"t":90},{"v":6.7,"t":78},{"v":6.85,"t":84},{"v":7.0,"t":87},{"v":7.15,"t":76},{"v":7.3,"t":82},{"v":7.45,"t":89},{"v":7.6,"t":79},{"v":7.75,"t":85},{"v":7.9,"t":81},{"v":8.0,"t":61}]
},
"columns": 3,
"bounds": "flush",
"align": "each",
"spacing": {"row": 9, "column": 53},
"concat": [
 {"width": 169, "height": 110, "layer": [
   {"data": {"name": "a"}, "mark": "circle",
    "encoding": {"x": {"field": "v", "type": "quantitative", "scale": {"domain": [-8, 8], "nice": false, "zero": false}, "axis": null},
                 "y": {"field": "t", "type": "quantitative", "scale": {"domain": [0, 110], "nice": false, "zero": false}, "axis": null}}},
   {"data": {"values": [{"panel": "(a)"}]}, "mark": {"type": "text", "fontSize": 23},
    "encoding": {"x": {"datum": -7.9, "axis": null}, "y": {"datum": 29, "axis": null}, "text": {"field": "panel"}}}]},
 {"width": 169, "height": 110, "layer": [
   {"data": {"name": "d"}, "mark": "circle",
    "encoding": {"x": {"field": "v", "type": "quantitative", "scale": {"domain": [-8, 8], "nice": false, "zero": false}, "axis": null},
                 "y": {"field": "t", "type": "quantitative", "scale": {"domain": [0, 110], "nice": false, "zero": false}, "axis": null}}},
   {"data": {"values": [{"panel": "(d)"}]}, "mark": {"type": "text", "fontSize": 23},
    "encoding": {"x": {"datum": -6.4, "axis": null}, "y": {"datum": 24, "axis": null}, "text": {"field": "panel"}}}]},
 {"width": 181, "height": 110, "layer": [
   {"data": {"name": "g"}, "mark": "circle",
    "encoding": {"x": {"field": "v", "type": "quantitative", "scale": {"domain": [-9.2381, 8], "nice": false, "zero": false}, "axis": null},
                 "y": {"field": "t", "type": "quantitative", "scale": {"domain": [0, 110], "nice": false, "zero": false}, "axis": null}}},
   {"data": {"values": [{"panel": "(g)"}]}, "mark": {"type": "text", "fontSize": 23},
    "encoding": {"x": {"datum": -4.95, "axis": null}, "y": {"datum": 25, "axis": null}, "text": {"field": "panel"}}}]},
 {"width": 169, "height": 110, "layer": [
   {"data": {"name": "b"}, "mark": "circle",
    "encoding": {"x": {"field": "v", "type": "quantitative", "scale": {"domain": [-8, 8], "nice": false, "zero": false}, "axis": null},
                 "y": {"field": "t", "type": "quantitative", "scale": {"domain": [0, 110], "nice": false, "zero": false}, "axis": null}}},
   {"data": {"values": [{"panel": "(b)"}]}, "mark": {"type": "text", "fontSize": 23},
    "encoding": {"x": {"datum": -7.9, "axis": null}, "y": {"datum": 32, "axis": null}, "text": {"field": "panel"}}},
   {"data": {"values": [{"label": "Transmission"}]}, "mark": "rule",
    "encoding": {"x": {"datum": -10.84, "axis": null}, "y": {"datum": 116, "axis": null}, "y2": {"datum": 244}}},
   {"data": {"values": [{"label": "Transmission"}]}, "mark": "rule",
    "encoding": {"x": {"datum": -10.84, "axis": null}, "y": {"datum": -109, "axis": null}, "y2": {"datum": -5}}},
   {"data": {"values": [{"label": "Transmission"}]}, "mark": {"type": "point", "shape": "M-1,1L0,-1L1,1", "size": 196, "filled": false, "color": "black", "strokeWidth": 1.6, "opacity": 1},
    "encoding": {"x": {"datum": -10.84, "axis": null}, "y": {"datum": 239, "axis": null}}},
   {"data": {"values": [{"label": "Transmission"}]}, "mark": {"type": "text", "angle": 270, "fontSize": 20},
    "encoding": {"x": {"datum": -10.84, "axis": null}, "y": {"datum": 55.5, "axis": null}, "text": {"field": "label"}}}]},
 {"width": 169, "height": 110, "layer": [
   {"data": {"name": "e"}, "mark": "circle",
    "encoding": {"x": {"field": "v", "type": "quantitative", "scale": {"domain": [-8, 8], "nice": false, "zero": false}, "axis": null},
                 "y": {"field": "t", "type": "quantitative", "scale": {"domain": [0, 110], "nice": false, "zero": false}, "axis": null}}},
   {"data": {"values": [{"panel": "(e)"}]}, "mark": {"type": "text", "fontSize": 23},
    "encoding": {"x": {"datum": -6.4, "axis": null}, "y": {"datum": 30, "axis": null}, "text": {"field": "panel"}}}]},
 {"width": 181, "height": 110, "layer": [
   {"data": {"name": "h"}, "mark": "circle",
    "encoding": {"x": {"field": "v", "type": "quantitative", "scale": {"domain": [-9.2381, 8], "nice": false, "zero": false}, "axis": null},
                 "y": {"field": "t", "type": "quantitative", "scale": {"domain": [0, 110], "nice": false, "zero": false}, "axis": null}}},
   {"data": {"values": [{"panel": "(h)"}]}, "mark": {"type": "text", "fontSize": 23},
    "encoding": {"x": {"datum": -4.86, "axis": null}, "y": {"datum": 18, "axis": null}, "text": {"field": "panel"}}}]},
 {"width": 169, "height": 110, "layer": [
   {"data": {"name": "c"}, "mark": "circle",
    "encoding": {"x": {"field": "v", "type": "quantitative", "scale": {"domain": [-8, 8], "nice": false, "zero": false}, "axis": null},
                 "y": {"field": "t", "type": "quantitative", "scale": {"domain": [0, 110], "nice": false, "zero": false}, "axis": null}}},
   {"data": {"values": [{"panel": "(c)"}]}, "mark": {"type": "text", "fontSize": 23},
    "encoding": {"x": {"datum": -8.1, "axis": null}, "y": {"datum": 42, "axis": null}, "text": {"field": "panel"}}},
   {"data": {"values": [{"axis": "Velocity (mm/s)"}]}, "mark": "rule",
    "encoding": {"x": {"datum": -8, "axis": null}, "x2": {"datum": 8}, "y": {"datum": -1, "axis": null}}},
   {"data": {"name": "ticks"}, "mark": "rule",
    "encoding": {"x": {"field": "tv", "type": "quantitative", "axis": null}, "y": {"datum": -1, "axis": null}, "y2": {"datum": 4}}},
   {"data": {"name": "ticks"}, "mark": {"type": "text", "fontSize": 18},
    "encoding": {"x": {"field": "tv", "type": "quantitative", "axis": null}, "y": {"datum": -14, "axis": null}, "text": {"field": "lab"}}},
   {"data": {"values": [{"axis": "Velocity (mm/s)"}]}, "mark": {"type": "text", "fontSize": 20},
    "encoding": {"x": {"datum": 1.18, "axis": null}, "y": {"datum": -38, "axis": null}, "text": {"field": "axis"}}}]},
 {"width": 169, "height": 110, "layer": [
   {"data": {"name": "f"}, "mark": "circle",
    "encoding": {"x": {"field": "v", "type": "quantitative", "scale": {"domain": [-8, 8], "nice": false, "zero": false}, "axis": null},
                 "y": {"field": "t", "type": "quantitative", "scale": {"domain": [0, 110], "nice": false, "zero": false}, "axis": null}}},
   {"data": {"values": [{"panel": "(f)"}]}, "mark": {"type": "text", "fontSize": 23},
    "encoding": {"x": {"datum": -6.3, "axis": null}, "y": {"datum": 36, "axis": null}, "text": {"field": "panel"}}},
   {"data": {"values": [{"axis": "Velocity (mm/s)"}]}, "mark": "rule",
    "encoding": {"x": {"datum": -8, "axis": null}, "x2": {"datum": 8}, "y": {"datum": 1, "axis": null}}},
   {"data": {"name": "ticks"}, "mark": "rule",
    "encoding": {"x": {"field": "tv", "type": "quantitative", "axis": null}, "y": {"datum": 1, "axis": null}, "y2": {"datum": 6}}},
   {"data": {"name": "ticks"}, "mark": {"type": "text", "fontSize": 18},
    "encoding": {"x": {"field": "tv", "type": "quantitative", "axis": null}, "y": {"datum": -13, "axis": null}, "text": {"field": "lab"}}},
   {"data": {"values": [{"axis": "Velocity (mm/s)"}]}, "mark": {"type": "text", "fontSize": 20},
    "encoding": {"x": {"datum": 0.8, "axis": null}, "y": {"datum": -37, "axis": null}, "text": {"field": "axis"}}}]},
 {"width": 181, "height": 110, "layer": [
   {"data": {"name": "i"}, "mark": "circle",
    "encoding": {"x": {"field": "v", "type": "quantitative", "scale": {"domain": [-9.2381, 8], "nice": false, "zero": false}, "axis": null},
                 "y": {"field": "t", "type": "quantitative", "scale": {"domain": [0, 110], "nice": false, "zero": false}, "axis": null}}},
   {"data": {"values": [{"panel": "(i)"}]}, "mark": {"type": "text", "fontSize": 23},
    "encoding": {"x": {"datum": -5.43, "axis": null}, "y": {"datum": 31, "axis": null}, "text": {"field": "panel"}}},
   {"data": {"values": [{"axis": "Velocity (mm/s)"}]}, "mark": "rule",
    "encoding": {"x": {"datum": -8, "axis": null}, "x2": {"datum": 8}, "y": {"datum": 0, "axis": null}}},
   {"data": {"name": "ticks"}, "mark": "rule",
    "encoding": {"x": {"field": "tv", "type": "quantitative", "axis": null}, "y": {"datum": 0, "axis": null}, "y2": {"datum": 5}}},
   {"data": {"name": "ticks"}, "mark": {"type": "text", "fontSize": 18},
    "encoding": {"x": {"field": "tv", "type": "quantitative", "axis": null}, "y": {"datum": -13, "axis": null}, "text": {"field": "lab"}}},
   {"data": {"values": [{"axis": "Velocity (mm/s)"}]}, "mark": {"type": "text", "fontSize": 20},
    "encoding": {"x": {"datum": 1.05, "axis": null}, "y": {"datum": -37, "axis": null}, "text": {"field": "axis"}}}]}
]
}
